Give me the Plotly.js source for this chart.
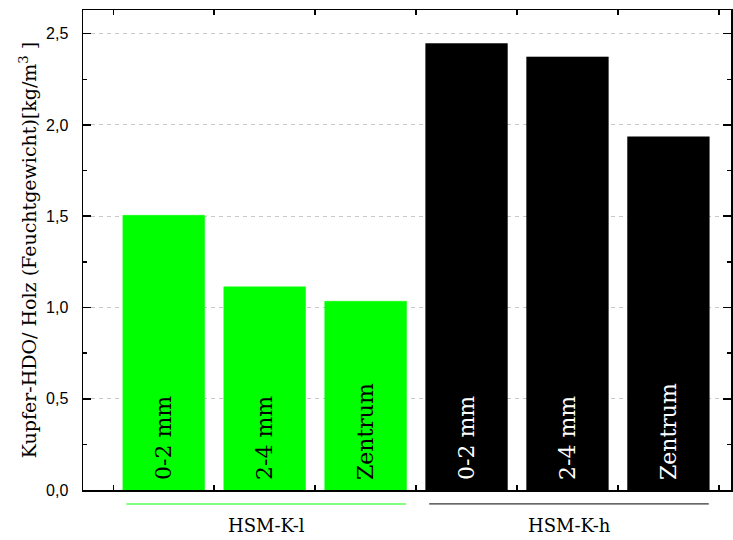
<!DOCTYPE html>
<html>
<head>
<meta charset="utf-8">
<script src="https://cdn.plot.ly/plotly-3.0.1.min.js"></script>
<style>html,body{margin:0;padding:0;background:#fff;}#chart{width:733px;height:540px;}</style>
</head>
<body>
<div id="chart"></div>
<script>
// Data
const barLabels = ['0-2 mm', '2-4 mm', 'Zentrum', '0-2 mm', '2-4 mm', 'Zentrum'];
const values = [1.505, 1.113, 1.034, 2.446, 2.373, 1.935];
const groupNames = ['HSM-K-l', 'HSM-K-h'];
const groupOf = [0, 0, 0, 1, 1, 1];
const yTickVals = [0, 0.5, 1.0, 1.5, 2.0, 2.5];

const groupColors = ['#00ff00', '#000000'];
const groupTextColors = ['#000000', '#ffffff'];
const groupLineColors = ['#80ff80', '#000000'];

const xPos = values.map((v, i) => i + 1);
const xTicks = xPos.map(p => p - 0.5).concat([xPos[xPos.length - 1] + 0.5]);

const trace = {
  type: 'bar',
  x: xPos,
  y: values,
  width: 0.81,
  marker: {
    color: groupOf.map(g => groupColors[g]),
    line: {color: groupOf.map(g => groupColors[g]), width: 0.5}
  },
  text: barLabels,
  texttemplate: '\u00a0%{text}',
  textposition: 'inside',
  insidetextanchor: 'start',
  textangle: -90,
  constraintext: 'none',
  textfont: {
    family: 'DejaVu Serif, serif',
    size: 22,
    color: groupOf.map(g => groupTextColors[g])
  },
  hoverinfo: 'none'
};

const shapes = [];
const annotations = [];
groupNames.forEach((name, gi) => {
  const idx = groupOf.map((g, i) => g === gi ? i : -1).filter(i => i >= 0);
  const x0 = xPos[idx[0]] - 0.37;
  const x1 = xPos[idx[idx.length - 1]] + 0.4;
  shapes.push({
    type: 'line', xref: 'x', yref: 'paper',
    x0: x0, x1: x1, y0: -0.029, y1: -0.029,
    line: {color: groupLineColors[gi], width: gi === 0 ? 2 : 1}
  });
  annotations.push({
    xref: 'x', yref: 'paper',
    x: (x0 + x1) / 2, y: -0.073,
    text: name, showarrow: false,
    xanchor: 'center', yanchor: 'middle',
    font: {family: 'DejaVu Serif, serif', size: 18, color: '#000'}
  });
});

const layout = {
  width: 733, height: 540,
  margin: {l: 83, r: 2, t: 10, b: 50},
  paper_bgcolor: '#fff', plot_bgcolor: '#fff',
  separators: ',.',
  showlegend: false,
  bargap: 0,
  xaxis: {
    range: [0.2, 6.62],
    tickmode: 'array', tickvals: xTicks,
    showticklabels: false,
    ticks: 'inside', ticklen: 5, tickwidth: 1.5, tickcolor: '#000',
    showline: true, linecolor: '#000', linewidth: 1.5, mirror: 'ticks',
    showgrid: false, zeroline: false, fixedrange: true
  },
  yaxis: {
    range: [0, 2.63],
    tickmode: 'array', tickvals: yTickVals,
    tickformat: '.1f',
    ticks: 'inside', ticklen: 8, tickwidth: 1.5, tickcolor: '#000',
    minor: {dtick: 0.25, ticks: 'inside', ticklen: 4, tickwidth: 1.5, tickcolor: '#000', showgrid: false},
    showline: true, linecolor: '#000', linewidth: 1.5, mirror: 'ticks',
    showgrid: true, gridcolor: '#c8c8c8', griddash: '4px,4px', gridwidth: 1,
    zeroline: false,
    ticklabelstandoff: 10,
    tickfont: {family: 'Liberation Sans, Arial, sans-serif', size: 16, color: '#000'},
    title: {
      text: 'Kupfer-HDO/ Holz (Feuchtgewicht)[kg/m<sup>3</sup> ]',
      font: {family: 'DejaVu Serif, serif', size: 19, color: '#000'},
      standoff: 4
    },
    automargin: false, fixedrange: true
  },
  shapes: shapes,
  annotations: annotations
};

Plotly.newPlot('chart', [trace], layout, {displayModeBar: false, staticPlot: true});
</script>
</body>
</html>
